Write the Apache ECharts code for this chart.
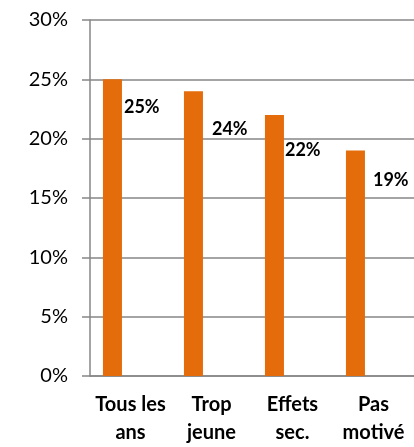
<!DOCTYPE html>
<html>
<head>
<meta charset="utf-8">
<script src="https://cdn.jsdelivr.net/npm/echarts@6/dist/echarts.min.js"></script>
<style>
  html, body { margin: 0; padding: 0; background: #fff; }
  #chart { width: 414px; height: 447px; }
</style>
</head>
<body>
<div id="chart"></div>
<script>
// données
const categories = ['Tous les\nans', 'Trop\njeune', 'Effets\nsec.', 'Pas\nmotivé'];
const values = [25, 24, 22, 19];
const yTicks = [0, 5, 10, 15, 20, 25, 30];

// décalage des étiquettes (placées à la main dans l'original)
const labelNudge = [[2, 28], [9, 38], [1, 35], [8, 30]];

const font = 'Lato, "Open Sans", sans-serif';
const axisGray = '#868686';

const chart = echarts.init(document.getElementById('chart'));

const option = {
  animation: false,
  grid: { left: 90, right: 0, top: 20, bottom: 69 },
  xAxis: {
    type: 'category',
    data: categories,
    axisLine: { lineStyle: { color: axisGray, width: 1.5 } },
    axisTick: { length: 8, lineStyle: { color: axisGray, width: 1.5 } },
    axisLabel: {
      interval: 0,
      color: '#000',
      fontFamily: font,
      fontSize: 20,
      fontWeight: 'bold',
      lineHeight: 28,
      margin: 15
    }
  },
  yAxis: {
    type: 'value',
    min: yTicks[0],
    max: yTicks[yTicks.length - 1],
    interval: 5,
    axisLine: { show: true, lineStyle: { color: axisGray, width: 1.5 } },
    axisTick: { show: true, length: 8, lineStyle: { color: axisGray, width: 1.5 } },
    splitLine: { lineStyle: { color: axisGray, width: 1.5 } },
    axisLabel: {
      color: '#000',
      fontFamily: font,
      fontSize: 20,
      margin: 22,
      formatter: v => v + '%'
    }
  },
  series: [
    {
      type: 'bar',
      data: values.map((v, i) => ({
        value: v,
        label: { offset: labelNudge[i] }
      })),
      barWidth: 19,
      barGap: '90%',
      itemStyle: { color: '#E46C0A' },
      label: {
        show: true,
        position: ['100%', 0],
        align: 'left',
        verticalAlign: 'middle',
        color: '#000',
        fontFamily: font,
        fontSize: 18,
        fontWeight: 'bold',
        formatter: p => p.value + '%'
      }
    },
    {
      type: 'bar',
      data: values.map(() => '-'),
      barWidth: 19,
      silent: true,
      itemStyle: { color: 'transparent' }
    }
  ]
};

chart.setOption(option);
</script>
</body>
</html>
